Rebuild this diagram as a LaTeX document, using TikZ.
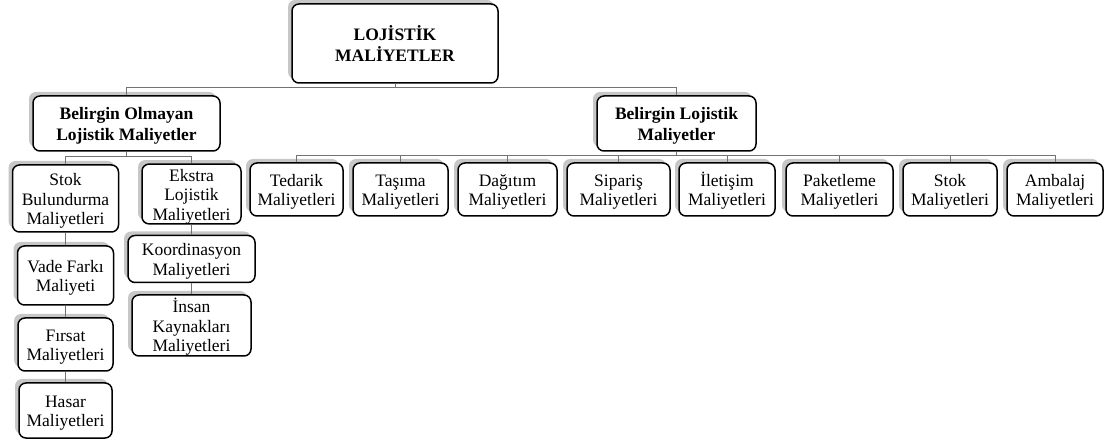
\documentclass[tikz,border=0pt]{standalone}
\usepackage{fontspec}
\setmainfont{Liberation Serif}
\usetikzlibrary{shadows}
% uniform height for the first line of every label
\newcommand{\firststrut}{\rule{0pt}{17pt}}

\begin{document}
\begin{tikzpicture}[x=1pt,y=-1pt,
  costbox/.style={draw=black, line width=1.5pt, rounded corners=7pt, fill=white,
    align=center, inner sep=0pt, text=black,
    font=\fontsize{17.5pt}{19.5pt}\selectfont,
    drop shadow={shadow xshift=-4pt, shadow yshift=4pt, fill=black!22, opacity=1, draw=none}},
  headbox/.style={costbox, font=\fontsize{17.5pt}{21pt}\selectfont\bfseries},
  conn/.style={draw=black!55, line width=1pt}]
\useasboundingbox (0,0) rectangle (1111,443);

% root
\node[headbox, minimum width=206pt, minimum height=79pt] (top) at (395,43.5) {LOJİSTİK\\MALİYETLER};

% main branches
\node[headbox, minimum width=187pt, minimum height=55pt] (bo) at (126.5,123.5) {\firststrut Belirgin Olmayan\\Lojistik Maliyetler};
\node[headbox, minimum width=159pt, minimum height=55pt] (bl) at (676.5,123.5) {\firststrut Belirgin Lojistik\\Maliyetler};

% hidden logistics costs
\node[costbox, minimum width=106pt, minimum height=67pt] (stok) at (65.5,198.5) {\firststrut Stok\\Bulundurma\\Maliyetleri};
\node[costbox, minimum width=96pt, minimum height=59pt] (vade) at (65.5,275.5) {\firststrut Vade Farkı\\Maliyeti};
\node[costbox, minimum width=95pt, minimum height=53pt] (firsat) at (65.5,344.5) {\firststrut Fırsat\\Maliyetleri};
\node[costbox, minimum width=93pt, minimum height=55pt] (hasar) at (65.5,410.5) {\firststrut Hasar\\Maliyetleri};

\node[costbox, minimum width=99pt, minimum height=58pt] (ekstra) at (191.5,194) {\firststrut Ekstra\\Lojistik\\Maliyetleri};
\node[costbox, minimum width=127pt, minimum height=47pt] (koord) at (191.5,259) {\firststrut Koordinasyon\\Maliyetleri};
\node[costbox, minimum width=119pt, minimum height=61pt] (insan) at (191.5,325.5) {\firststrut İnsan\\Kaynakları\\Maliyetleri};

% visible logistics costs
\node[costbox, minimum width=93pt, minimum height=53pt] (tedarik) at (296.5,189.5) {\firststrut Tedarik\\Maliyetleri};
\node[costbox, minimum width=95pt, minimum height=53pt] (tasima) at (400.5,189.5) {\firststrut Taşıma\\Maliyetleri};
\node[costbox, minimum width=99pt, minimum height=53pt] (dagitim) at (507.5,189.5) {\firststrut Dağıtım\\Maliyetleri};
\node[costbox, minimum width=103pt, minimum height=53pt] (siparis) at (618.5,189.5) {\firststrut Sipariş\\Maliyetleri};
\node[costbox, minimum width=96pt, minimum height=53pt] (iletisim) at (727,189.5) {\firststrut İletişim\\Maliyetleri};
\node[costbox, minimum width=107pt, minimum height=53pt] (paket) at (839.5,189.5) {\firststrut Paketleme\\Maliyetleri};
\node[costbox, minimum width=94pt, minimum height=53pt] (stokb) at (950,189.5) {\firststrut Stok\\Maliyetleri};
\node[costbox, minimum width=96pt, minimum height=53pt] (ambalaj) at (1055,189.5) {\firststrut Ambalaj\\Maliyetleri};

% bus levels
\coordinate (busA) at (0,87.5);
\coordinate (busB) at (0,157);
\coordinate (busC) at (0,155.5);

% connectors
\draw[conn] (top.south) -- (top.south |- busA);
\draw[conn] (bo.north) -- (bo.north |- busA) -- (bl.north |- busA) -- (bl.north);

\draw[conn] (bo.south) -- (bo.south |- busB);
\draw[conn] (stok.north) -- (stok.north |- busB) -- (ekstra.north |- busB) -- (ekstra.north);
\draw[conn] (stok.south) -- (vade.north);
\draw[conn] (vade.south) -- (firsat.north);
\draw[conn] (firsat.south) -- (hasar.north);
\draw[conn] (ekstra.south) -- (koord.north);
\draw[conn] (koord.south) -- (insan.north);

\draw[conn] (bl.south) -- (bl.south |- busC);
\draw[conn] (tedarik.north) -- (tedarik.north |- busC) -- (ambalaj.north |- busC) -- (ambalaj.north);
\foreach \n in {tasima,dagitim,siparis,iletisim,paket,stokb}
  \draw[conn] (\n.north) -- (\n.north |- busC);
\end{tikzpicture}
\end{document}
